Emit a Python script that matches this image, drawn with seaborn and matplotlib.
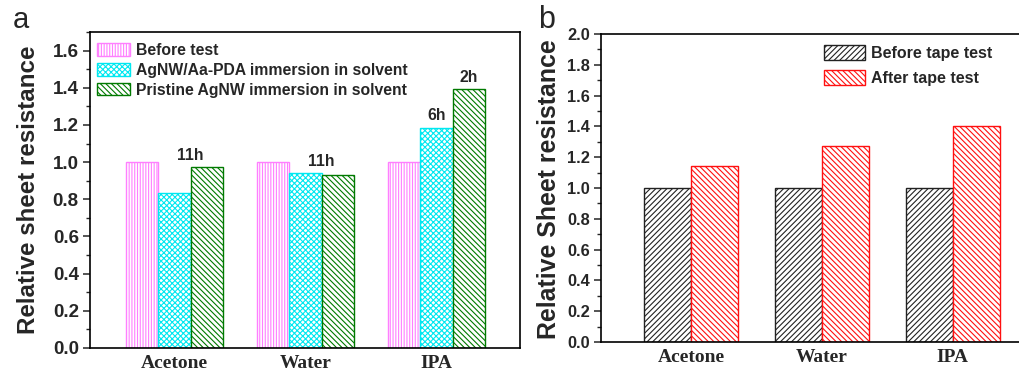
import matplotlib
matplotlib.use("Agg")
import numpy as np
import pandas as pd
import seaborn as sns
import matplotlib.pyplot as plt
from matplotlib.ticker import MultipleLocator, FormatStrFormatter

# data
solvents = ["Acetone", "Water", "IPA"]

series_a = ["Before test",
            "AgNW/Aa-PDA immersion in solvent",
            "Pristine AgNW immersion in solvent"]
before_test = [1.0, 1.0, 1.0]
agnw_pda = [0.835, 0.943, 1.186]
pristine_agnw = [0.975, 0.928, 1.393]

# immersion time labels: (solvent index, text, where)
time_labels = [(0, "11h", "edge"), (1, "11h", "edge"),
               (2, "6h", "cyan"), (2, "2h", "green")]

series_b = ["Before tape test", "After tape test"]
before_tape = [1.0, 1.0, 1.0]
after_tape = [1.145, 1.271, 1.405]

sns.set_style("ticks")
plt.rcParams["font.family"] = ["Liberation Sans", "DejaVu Sans"]
plt.rcParams["hatch.linewidth"] = 0.8

df_a = pd.DataFrame({
    "solvent": solvents * 3,
    "series": np.repeat(series_a, 3),
    "value": before_test + agnw_pda + pristine_agnw,
})
df_b = pd.DataFrame({
    "solvent": solvents * 2,
    "series": np.repeat(series_b, 3),
    "value": before_tape + after_tape,
})

fig = plt.figure(figsize=(10.2, 3.7), dpi=100)
ax1 = fig.add_axes([0.0882, 0.0595, 0.4216, 0.854])
ax2 = fig.add_axes([0.589, 0.0757, 0.4336, 0.8324])

sns.barplot(data=df_a, x="solvent", y="value", hue="series", hue_order=series_a,
            width=0.74, gap=0, errorbar=None, ax=ax1)
sns.barplot(data=df_b, x="solvent", y="value", hue="series", hue_order=series_b,
            width=0.72, gap=0, errorbar=None, ax=ax2)

styles_a = [("#ff7fff", "||||||"), ("#00e8f0", "xxxxxx"), ("#007a00", "\\\\\\\\\\\\")]
styles_b = [("#222222", "//////"), ("#ff1010", "\\\\\\\\\\\\")]

for ax, styles in [(ax1, styles_a), (ax2, styles_b)]:
    for cont, (col, hatch) in zip(ax.containers, styles):
        for p in cont.patches:
            p.set_facecolor("white")
            p.set_edgecolor(col)
            p.set_hatch(hatch)
            p.set_linewidth(1.0)
    if ax.get_legend() is not None:
        ax.get_legend().remove()

# time annotations above the bars
for idx, txt, where in time_labels:
    cyan = ax1.containers[1].patches[idx]
    green = ax1.containers[2].patches[idx]
    if where == "edge":
        x = green.get_x()
        y = max(cyan.get_height(), green.get_height())
    elif where == "cyan":
        x = cyan.get_x() + cyan.get_width() / 2
        y = cyan.get_height()
    else:
        x = green.get_x() + green.get_width() / 2
        y = green.get_height()
    ax1.annotate(txt, (x, y), xytext=(0, 3), textcoords="offset points",
                 ha="center", va="bottom", fontsize=11.3, fontweight="bold")

# axes cosmetics
for ax, ymax, tsize, lsize, label, lx, ly in [
        (ax1, 1.7, 13.5, 17.4, "Relative sheet resistance", -0.116, 0.5),
        (ax2, 2.0, 11.8, 17.9, "Relative Sheet resistance", -0.09, 0.497)]:
    ax.set_ylim(0, ymax)
    ax.yaxis.set_major_locator(MultipleLocator(0.2))
    ax.yaxis.set_minor_locator(MultipleLocator(0.1))
    ax.yaxis.set_major_formatter(FormatStrFormatter("%.1f"))
    ax.tick_params(axis="y", which="major", direction="out", length=5, width=1.1,
                   labelsize=tsize, pad=3)
    ax.tick_params(axis="y", which="minor", direction="out", length=3, width=1.0)
    ax.tick_params(axis="x", length=0, pad=5)
    for t in ax.get_yticklabels():
        t.set_fontweight("bold")
    ax.set_xticks(range(len(solvents)))
    ax.set_xticklabels(solvents, fontfamily=["Liberation Serif", "DejaVu Serif"],
                       fontweight="bold", fontsize=14)
    ax.set_xlabel("")
    ax.set_ylabel(label, fontsize=lsize, fontweight="bold")
    ax.yaxis.set_label_coords(lx, ly)
    for s in ax.spines.values():
        s.set_visible(True)
        s.set_linewidth(1.2)
        s.set_color("black")

ax1.set_xlim(-0.645, 2.637)
ax2.set_xlim(-0.69, 2.69)

ax1.legend(handles=ax1.containers[:], labels=series_a, loc="upper left",
           bbox_to_anchor=(-0.0057, 0.9945), frameon=False,
           prop={"weight": "bold", "size": 11.3},
           handlelength=2.1, handleheight=0.85, handletextpad=0.4,
           labelspacing=0.3, borderaxespad=0.2)
ax2.legend(handles=ax2.containers[:], labels=series_b, loc="upper left",
           bbox_to_anchor=(0.482, 0.9945), frameon=False,
           prop={"weight": "bold", "size": 11.5},
           handlelength=2.6, handleheight=1.05, handletextpad=0.4,
           labelspacing=0.55, borderaxespad=0.2)

fig.text(0.02, 0.945, "a", fontsize=21, ha="center", va="center")
fig.text(0.536, 0.947, "b", fontsize=22, ha="center", va="center")

fig.savefig("out.png", dpi=100)
